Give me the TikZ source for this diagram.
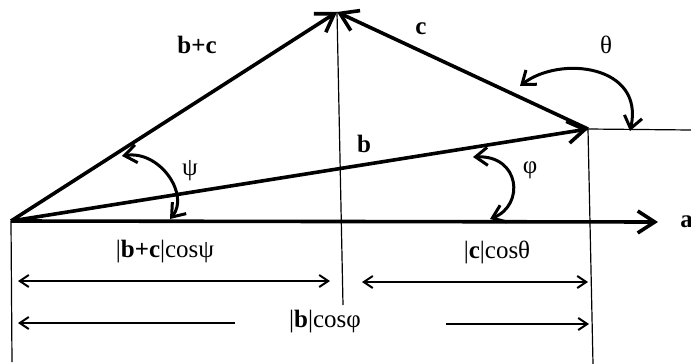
\documentclass[tikz,border=0pt]{standalone}
\usepackage{fontspec}
\setmainfont{Liberation Serif}
\usetikzlibrary{arrows.meta}
\tikzset{
	vecline/.style={
			line width=1.8pt,
			-{Straight Barb[length=8.5pt,width=11pt]}
		},
	thinline/.style={
			line width=0.6pt
		},
	dimline/.style={
			line width=1pt,
			{Straight Barb[length=4.5pt,width=6pt]}-{Straight Barb[length=4.5pt,width=6pt]}
		},
	dimhead/.style={
			line width=1pt,
			-{Straight Barb[length=4.5pt,width=6pt]}
		},
	angarc/.style={
			line width=1.5pt,
			{Straight Barb[length=6pt,width=9pt]}-{Straight Barb[length=6pt,width=9pt]}
		},
	lbl/.style={
			inner sep=0pt,
			font=\fontsize{12.5}{15}\selectfont
		}
}

\begin{document}
\begin{tikzpicture}[x=0.5pt, y=-0.5pt]
\useasboundingbox (0,0) rectangle (691,364);
\coordinate (O) at (11,221);
\coordinate (P) at (337,12);
\coordinate (B) at (588,129);
\coordinate (A) at (658,222);
\coordinate (Bh) at (691,130);
\coordinate (Bv) at (593,364);
\coordinate (Pv) at (343,305);
\coordinate (Ov) at (12,362);

\draw[thinline] (B) -- (Bh);
\draw[thinline] (B) -- (Bv);
\draw[thinline] (P) -- (Pv);
\draw[thinline] (O) -- (Ov);

\draw[vecline] (O) -- (A);
\draw[vecline] (O) -- (B);
\draw[vecline] (O) -- (P);
\draw[vecline] (B) -- (P);

\coordinate (psi1) at (170,219);
\coordinate (psi2) at (122,156);
\coordinate (phi1) at (490,219);
\coordinate (phi2) at (473,157);
\coordinate (th1) at (520,86);
\coordinate (th2) at (630,131);
\draw[angarc] (psi1) .. controls (190,195) and (160,150) .. (psi2);
\draw[angarc] (phi1) .. controls (525,205) and (520,155) .. (phi2);
\draw[angarc] (th1) .. controls (560,55) and (645,65) .. (th2);

\coordinate (d1l) at (18,281);
\coordinate (d1r) at (330,281);
\coordinate (d2l) at (362,282);
\coordinate (d2r) at (588,282);
\coordinate (d3s) at (235,323);
\coordinate (d3e) at (18,323);
\coordinate (d4s) at (446,324);
\coordinate (d4e) at (589,324);
\draw[dimline] (d1l) -- (d1r);
\draw[dimline] (d2l) -- (d2r);
\draw[dimhead] (d3s) -- (d3e);
\draw[dimhead] (d4s) -- (d4e);

\node[lbl] (bc) at (197,45) {\textbf{b+c}};
\node[lbl] (c) at (421,29) {\textbf{c}};
\node[lbl] (b) at (364,144) {\textbf{b}};
\node[lbl, anchor=west] (a) at (680,222) {\textbf{a}};
\node[lbl] (theta) at (606,45) {θ};
\node[lbl] (psi) at (190,171) {ψ};
\node[lbl] (phi) at (530,170) {φ};
\node[lbl] (projbc) at (165,252) {|\textbf{b+c}|cosψ};
\node[lbl] (projc) at (497,252) {|\textbf{c}|cosθ};
\node[lbl] (projb) at (325,322) {|\textbf{b}|cosφ};
\end{tikzpicture}
\end{document}
